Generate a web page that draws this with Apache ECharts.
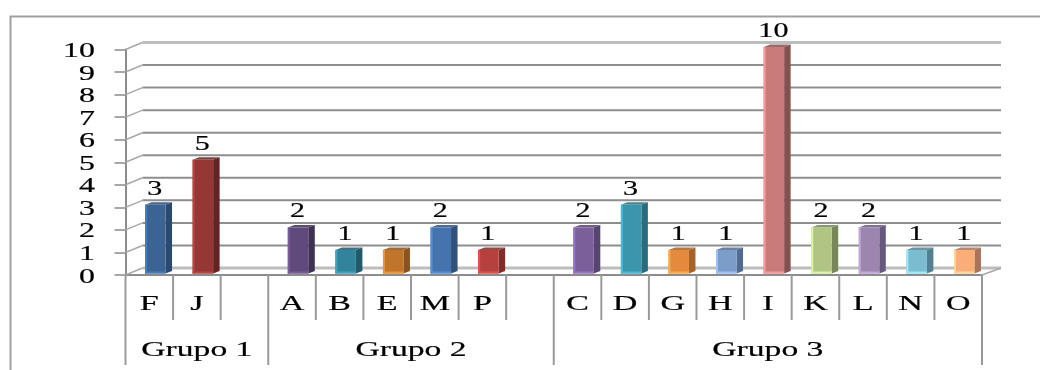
<!DOCTYPE html>
<html>
<head>
<meta charset="utf-8">
<style>html,body{margin:0;padding:0;background:#fff}#chart{width:1040px;height:370px}</style>
<script src="https://cdn.jsdelivr.net/npm/echarts@6/dist/echarts.min.js"></script>
</head>
<body>
<div id="chart"></div>
<script>
// Category letters in axis order; empty strings are the spacer slots between groups
const categories = ['F','J','','A','B','E','M','P','','C','D','G','H','I','K','L','N','O'];
const values = [3,5,null,2,1,1,2,1,null,2,3,1,1,10,2,2,1,1];
const frontColors = ['#3b6495','#953735','','#604a7b','#31849b','#c0752b','#4573ae','#b6403d','','#7a5f9a','#3b96ad','#e58a3c','#7c9cc9','#c97b7b','#b0c584','#9c86b0','#7bbcd1','#fbad78'];
const sideColors = ['#2a4a72','#632523','','#3f3151','#215968','#8a5420','#30517c','#7f2c2a','','#574470','#2a6c7d','#a56229','#516a92','#855050','#76875a','#655a7e','#52808f','#a8735a'];
const groupNames = ['Grupo 1','Grupo 2','Grupo 3'];
const groupSizes = [3,6,9];
const yTicks = [0,1,2,3,4,5,6,7,8,9,10];

const DEPTH_X = 17, DEPTH_Y = 7;
const BAR_W = 20.5, BAR_SHIFT = 6, SIDE_X = 6.5, SIDE_Y = 2.5, BAR_RISE = 2.5;
const AXIS_GRAY = '#8c8c8c';

const chart = echarts.init(document.getElementById('chart'));

// Wide serif text, as used throughout the chart's labels
function wideText(x, y, text, sx, align) {
  return {
    type: 'text', x, y, scaleX: sx, scaleY: 1,
    style: { text, font: '21px "Liberation Serif"', fill: '#000', stroke: '#000', lineWidth: 0.2,
      align: align || 'center', verticalAlign: 'middle' }
  };
}

// Back wall gridlines with their slanted returns to the value axis
function renderWall(params, api) {
  const v = api.value(0);
  const [x0, y] = api.coord([0, v]);
  const left = x0 - api.size([1, 0])[0] / 2;
  const right = left + api.size([1, 0])[0] * categories.length;
  const pale = v === 10 || v === 0;
  const children = [
    { type: 'line', shape: { x1: left + DEPTH_X, y1: y - DEPTH_Y, x2: right + DEPTH_X + 2, y2: y - DEPTH_Y },
      style: { stroke: pale ? '#bdbdbd' : '#8e8e8e', lineWidth: pale ? 3 : 2 } },
    { type: 'line', shape: { x1: left, y1: y, x2: left + DEPTH_X, y2: y - DEPTH_Y },
      style: { stroke: '#a8a8a8', lineWidth: 1.5 } },
    wideText(95, y + 2, String(v), 1.52, 'right')
  ];
  if (v === 0) {
    children.push({ type: 'line', shape: { x1: right, y1: y, x2: right + DEPTH_X + 2, y2: y - DEPTH_Y },
      style: { stroke: '#a8a8a8', lineWidth: 1.5 } });
  }
  return { type: 'group', children };
}

// Extruded column: front face, highlight edges, side face, top face and value label
function renderBar(params, api) {
  const i = api.value(0), v = api.value(1);
  const [cx, yVal] = api.coord([i, v]);
  const [, y0] = api.coord([i, 0]);
  const yTop = yVal - BAR_RISE, yBase = y0 - 1.5;
  const l = cx + BAR_SHIFT - BAR_W / 2, r = l + BAR_W;
  const front = frontColors[i], side = sideColors[i];
  const lighter = echarts.color.lift(front, -0.25);
  return {
    type: 'group',
    children: [
      { type: 'polygon', shape: { points: [[r, yTop], [r + SIDE_X, yTop - SIDE_Y], [r + SIDE_X, yBase - SIDE_Y], [r, yBase]] }, style: { fill: side } },
      { type: 'polygon', shape: { points: [[l, yTop], [l + SIDE_X, yTop - SIDE_Y], [r + SIDE_X, yTop - SIDE_Y], [r, yTop]] }, style: { fill: side, opacity: 0.85 } },
      { type: 'rect', shape: { x: l, y: yTop, width: BAR_W, height: yBase - yTop }, style: { fill: front } },
      { type: 'rect', shape: { x: l, y: yTop, width: 2, height: yBase - yTop }, style: { fill: lighter } },
      { type: 'rect', shape: { x: l, y: yBase - 2, width: BAR_W, height: 2 }, style: { fill: lighter } },
      wideText(cx + BAR_SHIFT - 0.5, yTop - 15.5, String(v), 1.43)
    ]
  };
}

// Two-level category band under the plot: letters, their separators, then the group row
function renderBand(params, api) {
  const i = api.value(0);
  const w = api.size([1, 0])[0];
  const [cx, y0] = api.coord([i, 0]);
  const children = [];
  if (categories[i]) children.push(wideText(cx, y0 + 29, categories[i], 1.62));
  let start = 0;
  const edge = groupSizes.map(n => (start += n));
  const isEdge = i === 0 || edge.includes(i);
  children.push({ type: 'line', shape: { x1: cx - w / 2, y1: y0, x2: cx - w / 2, y2: y0 + (isEdge ? 90 : 45) },
    style: { stroke: '#9a9a9a', lineWidth: 2 } });
  if (i === categories.length - 1) {
    children.push({ type: 'line', shape: { x1: cx + w / 2, y1: y0, x2: cx + w / 2, y2: y0 + 90 },
      style: { stroke: '#9a9a9a', lineWidth: 2 } });
  }
  let first = 0;
  groupSizes.forEach((n, g) => {
    if (i === first) {
      const mid = cx - w / 2 + w * n / 2;
      children.push(wideText(mid, y0 + 75, groupNames[g], 1.6));
    }
    first += n;
  });
  return { type: 'group', children };
}

chart.setOption({
  animation: false,
  backgroundColor: '#fff',
  grid: { left: 125.5, right: 58, top: 49.5, bottom: 95 },
  graphic: [
    { type: 'polyline', silent: true, shape: { points: [[10.5, 370], [10.5, 16.5], [1040, 16.5]] },
      style: { stroke: '#a0a0a0', lineWidth: 2, fill: 'none' } }
  ],
  xAxis: {
    type: 'category', data: categories,
    axisLine: { lineStyle: { color: AXIS_GRAY, width: 2 } },
    axisTick: { show: false }, axisLabel: { show: false }
  },
  yAxis: {
    type: 'value', min: 0, max: 10, interval: 1,
    splitLine: { show: false },
    axisLine: { show: true, lineStyle: { color: AXIS_GRAY, width: 2 } },
    axisTick: { show: true, length: 11, lineStyle: { color: AXIS_GRAY, width: 1.5 } },
    axisLabel: { show: false }
  },
  series: [
    { type: 'custom', renderItem: renderWall, data: yTicks.map(v => [v]), encode: { y: 0 }, silent: true, z: 1, clip: false },
    { type: 'custom', renderItem: renderBand, data: categories.map((c, i) => [i]), encode: { x: 0 }, silent: true, z: 2, clip: false },
    { type: 'custom', renderItem: renderBar,
      data: values.map((v, i) => [i, v]).filter(d => d[1] !== null),
      encode: { x: 0, y: 1 }, silent: true, z: 3, clip: false }
  ]
});
</script>
</body>
</html>
